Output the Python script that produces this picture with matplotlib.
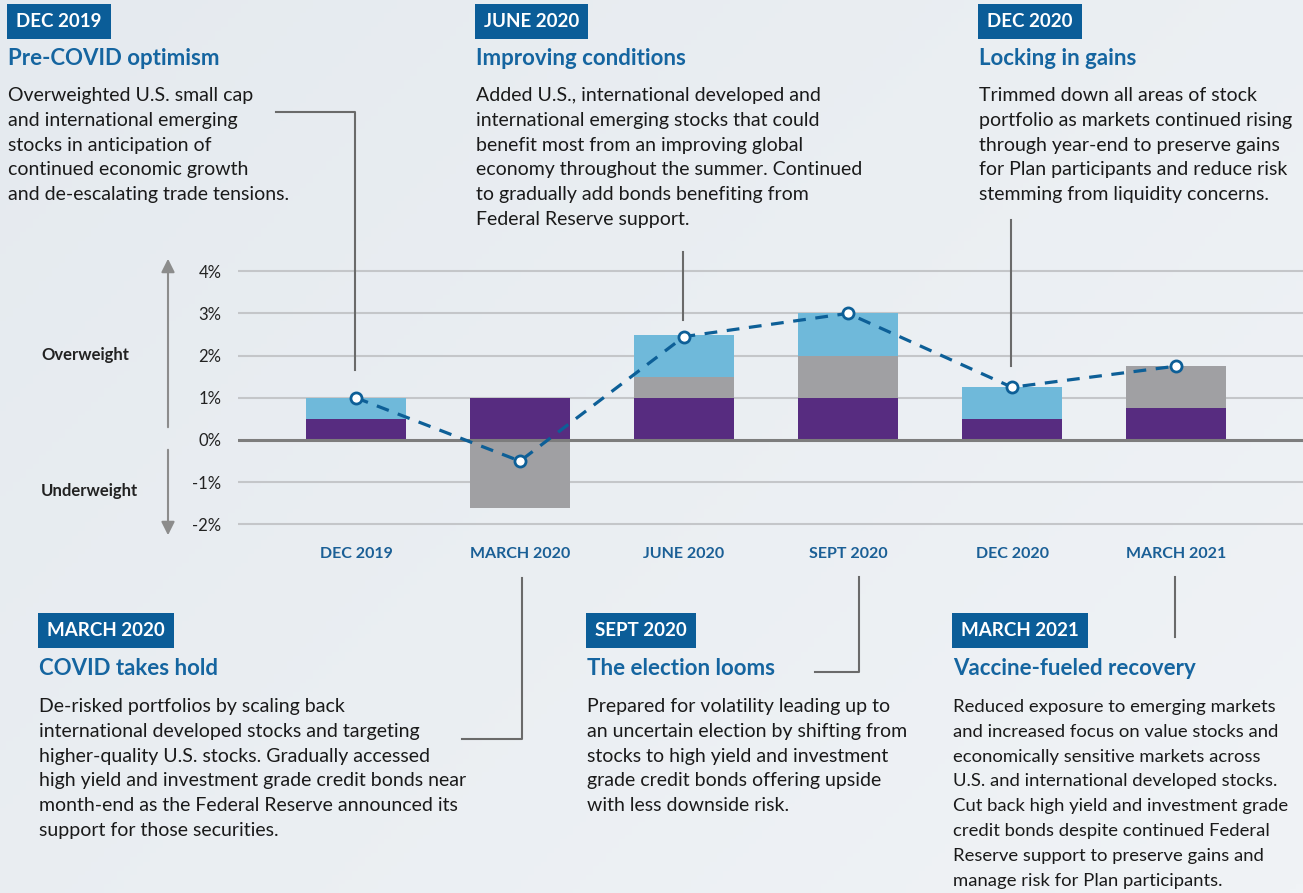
import matplotlib.pyplot as plt
import numpy as np
from matplotlib.lines import Line2D
from matplotlib.patches import FancyArrowPatch

plt.rcParams['font.family'] = ['Lato', 'DejaVu Sans']

# data
periods = ['DEC 2019', 'MARCH 2020', 'JUNE 2020', 'SEPT 2020', 'DEC 2020', 'MARCH 2021']
purple_seg = [0.5, 1.0, 1.0, 1.0, 0.5, 0.75]
gray_seg = [0.0, -1.6, 0.5, 1.0, 0.0, 1.0]
blue_seg = [0.5, 0.0, 1.0, 1.0, 0.75, 0.0]
net_active = [1.0, -0.5, 2.45, 3.0, 1.25, 1.75]
yticks = [-2, -1, 0, 1, 2, 3, 4]

headers = ['DEC 2019', 'JUNE 2020', 'DEC 2020', 'MARCH 2020', 'SEPT 2020', 'MARCH 2021']
titles = ['Pre-COVID optimism', 'Improving conditions', 'Locking in gains',
          'COVID takes hold', 'The election looms', 'Vaccine-fueled recovery']
bodies = [
    ['Overweighted U.S. small cap', 'and international emerging',
     'stocks in anticipation of', 'continued economic growth',
     'and de-escalating trade tensions.'],
    ['Added U.S., international developed and',
     'international emerging stocks that could',
     'benefit most from an improving global',
     'economy throughout the summer. Continued',
     'to gradually add bonds benefiting from', 'Federal Reserve support.'],
    ['Trimmed down all areas of stock', 'portfolio as markets continued rising',
     'through year-end to preserve gains', 'for Plan participants and reduce risk',
     'stemming from liquidity concerns.'],
    ['De-risked portfolios by scaling back',
     'international developed stocks and targeting',
     'higher-quality U.S. stocks. Gradually accessed',
     'high yield and investment grade credit bonds near',
     'month-end as the Federal Reserve announced its',
     'support for those securities.'],
    ['Prepared for volatility leading up to',
     'an uncertain election by shifting from',
     'stocks to high yield and investment',
     'grade credit bonds offering upside', 'with less downside risk.'],
    ['Reduced exposure to emerging markets',
     'and increased focus on value stocks and',
     'economically sensitive markets across',
     'U.S. and international developed stocks.',
     'Cut back high yield and investment grade',
     'credit bonds despite continued Federal',
     'Reserve support to preserve gains and',
     'manage risk for Plan participants.'],
]

PURPLE = '#572c80'
GRAY = '#a0a0a3'
LBLUE = '#6fb9da'
DBLUE = '#0d5f97'
HEAD = '#0b5d98'
TITLE = '#1565a0'
LINE = '#6a6a6a'

W, H = 1303, 893
fig = plt.figure(figsize=(W / 100, H / 100), dpi=100)


def fx(x):
    return x / W


def fy(y):
    return 1 - y / H


# background gradient
bg = fig.add_axes([0, 0, 1, 1], zorder=-10)
gx, gy = np.meshgrid(np.linspace(0, 1, 200), np.linspace(0, 1, 200))
grad = 0.6 * gx + 0.4 * gy
bg.imshow(grad, cmap=plt.matplotlib.colors.LinearSegmentedColormap.from_list(
    'bg', ['#e5eaef', '#f0f3f6']), aspect='auto', extent=[0, 1, 0, 1])
bg.axis('off')

# main chart
ax = fig.add_axes([fx(238), fy(535), fx(1303) - fx(238), fy(250) - fy(535)])
ax.set_facecolor('none')
x = np.arange(len(periods))
bw = 0.61
purple = np.array(purple_seg)
gray = np.array(gray_seg)
blue = np.array(blue_seg)
gray_bottom = np.where(gray >= 0, purple, 0)
blue_bottom = purple + np.clip(gray, 0, None)

for yv in yticks:
    if yv == 0:
        ax.axhline(0, color='#7d7d7d', lw=2.2, zorder=4)
    else:
        ax.axhline(yv, color='#c4c6c9', lw=1.5, zorder=0)

ax.bar(x, purple, bw, color=PURPLE, zorder=2)
ax.bar(x, gray, bw, bottom=gray_bottom, color=GRAY, zorder=2)
ax.bar(x, blue, bw, bottom=blue_bottom, color=LBLUE, zorder=2)
ax.plot(x, net_active, color=DBLUE, lw=2.3, dashes=(4, 3), marker='o', ms=8,
        mfc='white', mec=DBLUE, mew=2, zorder=5)

ax.set_xlim((238 - 356) / 164, (1303 - 356) / 164)
ax.set_ylim(-95 / 42.2, 190 / 42.2)
ax.set_yticks(yticks)
ax.set_yticklabels(['%d%%' % v for v in yticks], fontsize=12, color='#222222')
ax.set_xticks(x)
ax.set_xticklabels(periods, fontsize=11.5, fontweight='bold', color='#1a5f96')
ax.tick_params(axis='y', length=0, pad=12)
ax.tick_params(axis='x', length=0, pad=9)
for s in ax.spines.values():
    s.set_visible(False)

# over/underweight arrows
for y0, y1 in [(430, 256), (447, 538)]:
    fig.add_artist(FancyArrowPatch((fx(168), fy(y0)), (fx(168), fy(y1)),
                                   transform=fig.transFigure, arrowstyle='-|>',
                                   mutation_scale=20, color='#8c8c8c', lw=1.5))
fig.text(fx(41), fy(355), 'Overweight', fontsize=12, fontweight='bold',
         color='#222222', va='center')
fig.text(fx(41), fy(491), 'Underweight', fontsize=12, fontweight='bold',
         color='#222222', va='center')

# callout blocks: (left, header baseline, title baseline, body first baseline, body size)
blocks = [(8, 27, 65, 101, 14), (476, 27, 65, 101, 14), (979, 27, 65, 101, 14),
          (39, 636, 675, 712, 14), (587, 636, 675, 712, 14), (953, 636, 675, 712, 13.3)]
for (lx, hb, tb, bb, fs), hd, tt, body in zip(blocks, headers, titles, bodies):
    fig.text(fx(lx + 8), fy(hb), hd, fontsize=13.5, fontweight='bold', color='white',
             va='baseline',
             bbox=dict(boxstyle='square,pad=0.48', fc=HEAD, ec='none'))
    fig.text(fx(lx), fy(tb), tt, fontsize=16, fontweight='bold', color=TITLE,
             va='baseline')
    for i, line in enumerate(body):
        fig.text(fx(lx), fy(bb + i * 24.8), line, fontsize=fs, color='#1a1a1a',
                 va='baseline')

# connector lines
connectors = [
    [(276, 112), (355, 112), (355, 370)],
    [(683, 252), (683, 320)],
    [(1011, 220), (1011, 366)],
    [(522, 578), (522, 739), (462, 739)],
    [(859, 577), (859, 672), (815, 672)],
    [(1175, 577), (1175, 637)],
]
for pts in connectors:
    fig.add_artist(Line2D([fx(p[0]) for p in pts], [fy(p[1]) for p in pts],
                          transform=fig.transFigure, color=LINE, lw=1.5))

fig.savefig('out.png', dpi=100)
